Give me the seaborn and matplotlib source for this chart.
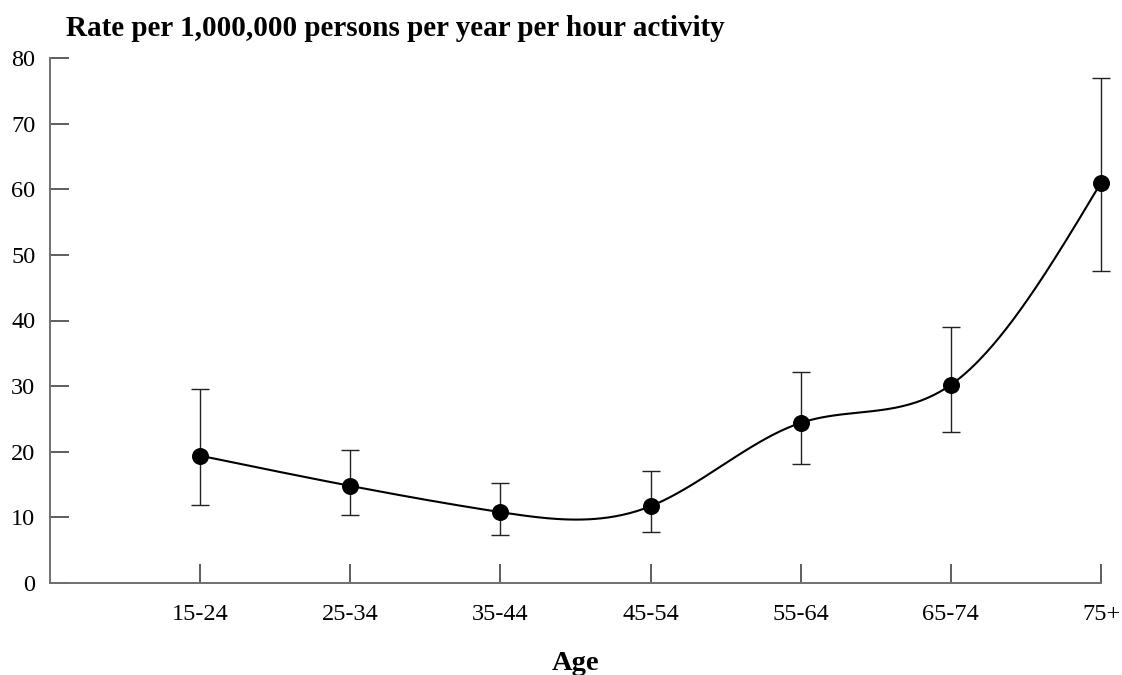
import numpy as np
import pandas as pd
import matplotlib
matplotlib.use("Agg")
import matplotlib.pyplot as plt
import seaborn as sns

# Rate per 1,000,000 persons per year per hour of activity, by age group
age_groups = ["15-24", "25-34", "35-44", "45-54", "55-64", "65-74", "75+"]
rate = [19.4, 14.8, 10.8, 11.7, 24.4, 30.2, 61.0]
ci_low = [11.9, 10.3, 7.3, 7.8, 18.2, 23.0, 47.5]
ci_high = [29.6, 20.3, 15.3, 17.1, 32.1, 39.0, 77.0]


def natural_cubic_spline(x, y, xs):
    """Evaluate a natural cubic spline through (x, y) at xs."""
    x = np.asarray(x, float)
    y = np.asarray(y, float)
    n = len(x)
    h = np.diff(x)
    A = np.zeros((n, n))
    b = np.zeros(n)
    A[0, 0] = A[-1, -1] = 1.0
    for i in range(1, n - 1):
        A[i, i - 1] = h[i - 1]
        A[i, i] = 2 * (h[i - 1] + h[i])
        A[i, i + 1] = h[i]
        b[i] = 3 * ((y[i + 1] - y[i]) / h[i] - (y[i] - y[i - 1]) / h[i - 1])
    c = np.linalg.solve(A, b)
    out = np.empty_like(xs, dtype=float)
    for j, xv in enumerate(xs):
        i = min(np.searchsorted(x, xv, side="right") - 1, n - 2)
        i = max(i, 0)
        bi = (y[i + 1] - y[i]) / h[i] - h[i] * (2 * c[i] + c[i + 1]) / 3
        di = (c[i + 1] - c[i]) / (3 * h[i])
        dx = xv - x[i]
        out[j] = y[i] + bi * dx + c[i] * dx ** 2 + di * dx ** 3
    return out


pos = np.arange(1, len(age_groups) + 1)
df = pd.DataFrame({"pos": pos, "rate": rate, "lo": ci_low, "hi": ci_high})

xs = np.linspace(pos[0], pos[-1], 400)
curve = pd.DataFrame({"pos": xs, "rate": natural_cubic_spline(pos, rate, xs)})

sns.set_style("white")
plt.rcParams["font.family"] = ["Liberation Serif", "DejaVu Serif"]
plt.rcParams["text.color"] = "black"

fig = plt.figure(figsize=(11.22, 6.75), dpi=100)
ax = fig.add_axes([50 / 1122, (675 - 583) / 675, 1051 / 1122, 525 / 675])

axis_grey = "#707070"

# error bars
eb = ax.errorbar(df["pos"], df["rate"],
                 yerr=[df["rate"] - df["lo"], df["hi"] - df["rate"]],
                 fmt="none", ecolor="#222222", elinewidth=1.0,
                 capsize=6.5, capthick=1.0, zorder=2)
for art in eb.lines[1] + eb.lines[2]:
    art.set_clip_on(False)

# smoothed trend curve
sns.lineplot(data=curve, x="pos", y="rate", ax=ax, color="black",
             linewidth=1.5, zorder=3, estimator=None, sort=False)

# points
sns.scatterplot(data=df, x="pos", y="rate", ax=ax, color="black",
                s=150, edgecolor="black", linewidth=0, zorder=4)
for coll in ax.collections:
    coll.set_clip_on(False)
for ln in ax.lines:
    ln.set_clip_on(False)

ax.set_xlim(0, 7)
ax.set_ylim(0, 80)
ax.set_xticks(pos)
ax.set_xticklabels(age_groups)
ax.set_yticks(np.arange(0, 81, 10))

for side in ("top", "right"):
    ax.spines[side].set_visible(False)
for side in ("left", "bottom"):
    ax.spines[side].set_color(axis_grey)
    ax.spines[side].set_linewidth(1.4)

ax.tick_params(axis="both", direction="in", length=14, width=1.1,
               color="#333333", labelsize=17.5, labelcolor="black",
               bottom=True, left=True)
ax.tick_params(axis="y", pad=10.5)
ax.tick_params(axis="x", pad=15)

ax.set_xlabel("Age", fontsize=20.5, fontweight="bold", labelpad=18.5,
              color="black")
ax.set_ylabel("")

fig.text(66 / 1122, 1 - 36 / 675,
         "Rate per 1,000,000 persons per year per hour activity",
         fontsize=21, fontweight="bold", ha="left", va="baseline",
         color="black")

fig.savefig("out.png", dpi=100)
